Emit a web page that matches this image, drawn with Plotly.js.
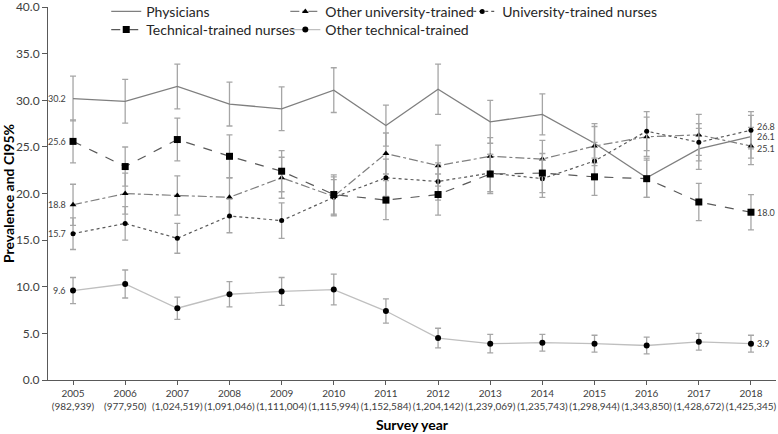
<!DOCTYPE html>
<html>
<head>
<meta charset="utf-8">
<script src="https://cdn.plot.ly/plotly-3.0.1.min.js"></script>
<style>html,body{margin:0;padding:0;background:#fff}#chart{width:778px;height:434px}</style>
</head>
<body>
<div id="chart"></div>
<script>
var years = [2005,2006,2007,2008,2009,2010,2011,2012,2013,2014,2015,2016,2017,2018];
var sampleSizes = ["982,939","977,950","1,024,519","1,091,046","1,111,004","1,115,994","1,152,584","1,204,142","1,239,069","1,235,743","1,298,944","1,343,850","1,428,672","1,425,345"];

var physicians   = [30.2,29.9,31.5,29.6,29.1,31.1,27.3,31.2,27.7,28.5,25.4,21.7,24.8,26.1];
var physiciansCI = [2.4,2.35,2.4,2.35,2.35,2.4,2.2,2.7,2.3,2.2,2.1,2.1,2.2,2.3];

var otherUniv    = [18.8,20.0,19.8,19.6,21.7,19.7,24.3,23.0,24.0,23.7,25.1,26.1,26.3,25.1];
var otherUnivCI  = [2.2,2.2,2.1,2.1,2.2,2.1,2.2,2.2,2.0,2.0,2.1,2.1,2.2,2.0];

var univNurses   = [15.7,16.8,15.2,17.6,17.1,19.6,21.7,21.3,22.2,21.6,23.5,26.7,25.5,26.8];
var univNursesCI = [1.7,1.8,1.6,1.8,1.9,1.9,2.0,2.0,2.0,2.0,2.0,2.1,2.0,2.0];

var techNurses   = [25.6,22.9,25.8,24.0,22.4,19.9,19.3,19.9,22.1,22.2,21.8,21.6,19.1,18.0];
var techNursesCI = [2.3,2.1,2.3,2.3,2.2,2.1,2.1,2.2,2.1,2.1,2.0,2.0,2.0,1.9];

var otherTech    = [9.6,10.3,7.7,9.2,9.5,9.7,7.4,4.5,3.9,4.0,3.9,3.7,4.1,3.9];
var otherTechCI  = [1.4,1.5,1.2,1.35,1.5,1.65,1.3,1.05,1.0,0.9,0.9,0.9,0.9,0.9];

var tickText = years.map(function(y,i){return y + "<br>(" + sampleSizes[i] + ")";});

var errStyle = {type:"data", visible:true, color:"#a6a6a6", thickness:1.3, width:3};

function mk(name, vals, ci, line, marker, legend){
  return {
    x: years, y: vals, name: name, type: "scatter",
    mode: marker ? "lines+markers" : "lines",
    line: line, marker: marker || {size:1},
    error_y: Object.assign({array: ci}, errStyle),
    legend: legend, cliponaxis:false, hoverinfo:"skip"
  };
}

var series = [
  {name:"Physicians", vals:physicians, ci:physiciansCI, line:{color:"#7f7f7f", width:1.3, dash:"solid"}, marker:null, legend:"legend", shiftR:0},
  {name:"Other university-trained", vals:otherUniv, ci:otherUnivCI, line:{color:"#7f7f7f", width:1.2, dash:"dashdot"}, marker:{symbol:"triangle-up", size:6, color:"#000"}, legend:"legend2", shiftR:-2},
  {name:"University-trained nurses", vals:univNurses, ci:univNursesCI, line:{color:"#595959", width:1.2, dash:"dot"}, marker:{symbol:"circle", size:5, color:"#000"}, legend:"legend3", shiftR:4},
  {name:"Technical-trained nurses", vals:techNurses, ci:techNursesCI, line:{color:"#595959", width:1.2, dash:"dash"}, marker:{symbol:"square", size:7, color:"#000"}, legend:"legend4", shiftR:0},
  {name:"Other technical-trained", vals:otherTech, ci:otherTechCI, line:{color:"#bfbfbf", width:1.3, dash:"solid"}, marker:{symbol:"circle", size:6, color:"#000"}, legend:"legend5", shiftR:0}
];

var traces = series.map(function(s){return mk(s.name, s.vals, s.ci, s.line, s.marker, s.legend);});

var labelFont = {family:"Lato, sans-serif", size:9, color:"#404040"};
var annotations = [];
series.forEach(function(s){
  var n = s.vals.length;
  annotations.push({x:years[0], y:s.vals[0], xref:"x", yref:"y", text:s.vals[0].toFixed(1),
    showarrow:false, xanchor:"right", yanchor:"middle", xshift:-5, font:labelFont});
  annotations.push({x:years[n-1], y:s.vals[n-1], xref:"x", yref:"y", text:s.vals[n-1].toFixed(1),
    showarrow:false, xanchor:"left", yanchor:"middle", xshift:4, yshift:s.shiftR, font:labelFont});
});

var legendBase = {
  orientation:"v", xanchor:"left", yanchor:"top",
  font:{family:"Lato, sans-serif", size:14, color:"#262626"},
  bgcolor:"rgba(0,0,0,0)", itemwidth:30, tracegroupgap:0
};
var row1 = 1.03, row2 = 0.9812;

var layout = {
  width:778, height:434,
  margin:{l:48, r:2, t:7, b:54, autoexpand:false},
  paper_bgcolor:"#fff", plot_bgcolor:"#fff",
  showlegend:true,
  legend:  Object.assign({}, legendBase, {x:0.08,  y:row1}),
  legend2: Object.assign({}, legendBase, {x:0.326, y:row1}),
  legend3: Object.assign({}, legendBase, {x:0.569, y:row1}),
  legend4: Object.assign({}, legendBase, {x:0.08,  y:row2}),
  legend5: Object.assign({}, legendBase, {x:0.326, y:row2}),
  annotations: annotations,
  xaxis:{
    range:[2004.52, 2018.48], tickvals:years, ticktext:tickText, tickangle:0,
    showgrid:false, zeroline:false, showline:true, linecolor:"#595959", linewidth:1,
    ticks:"outside", ticklen:4, tickcolor:"#595959",
    tickfont:{family:"Lato, sans-serif", size:10, color:"#404040"},
    title:{text:"<b>Survey year</b>", font:{family:"Lato, sans-serif", size:14, color:"#000"}, standoff:9}
  },
  yaxis:{
    range:[0,40.02], tickvals:[0,5,10,15,20,25,30,35,40], tickformat:".1f", ticklabeloverflow:"allow",
    showgrid:false, zeroline:false, showline:true, linecolor:"#595959", linewidth:1,
    ticks:"outside", ticklen:5, tickcolor:"#595959",
    tickfont:{family:"Lato, sans-serif", size:12, color:"#404040"},
    title:{text:"<b>Prevalence and CI95%</b>", font:{family:"Lato, sans-serif", size:14, color:"#000"}, standoff:4}
  }
};

Plotly.newPlot("chart", traces, layout, {displayModeBar:false, staticPlot:true});
</script>
</body>
</html>
